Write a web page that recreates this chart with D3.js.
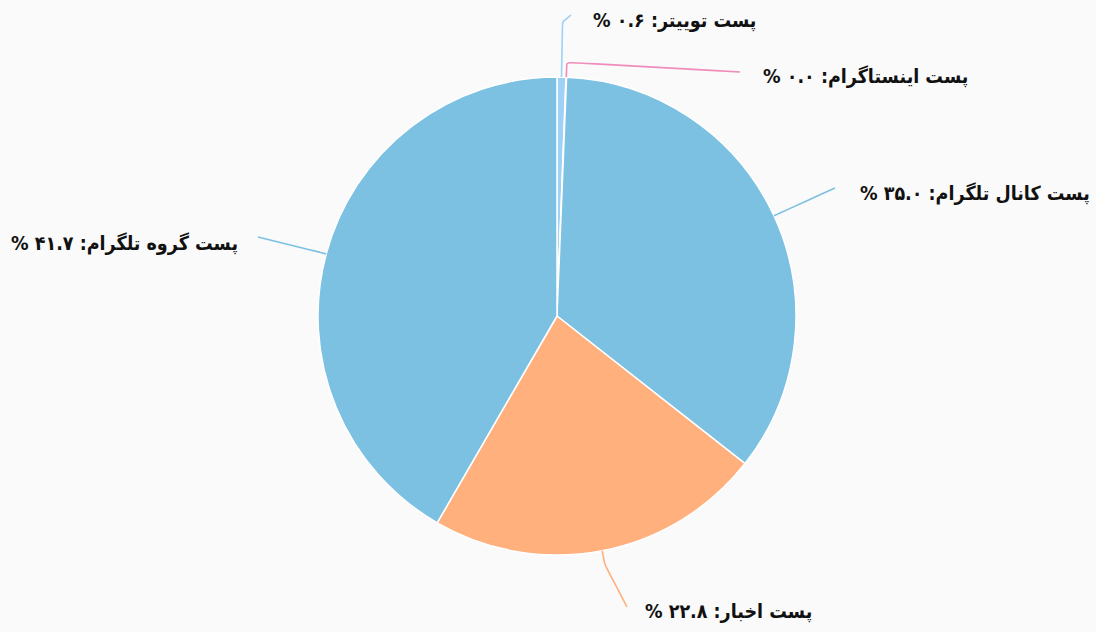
<!DOCTYPE html>
<html>
<head>
<meta charset="utf-8">
<script src="https://cdn.jsdelivr.net/npm/d3@7"></script>
<style>
  html, body { margin: 0; padding: 0; background: #fafafa; }
  svg { display: block; }
  text { font-family: "DejaVu Sans Condensed", "DejaVu Sans", sans-serif; font-weight: bold; fill: #111; }
</style>
</head>
<body>
<svg id="chart" width="1096" height="632"></svg>
<script>
// ---- data ----
const categories = ["پست توییتر", "پست اینستاگرام", "پست کانال تلگرام", "پست اخبار", "پست گروه تلگرام"];
const values = [0.6, 0.04, 35.0, 22.8, 41.7];
const colors = ["#9fd0f5", "#f08cbb", "#7cc1e2", "#ffb07d", "#7cc1e2"];

// ---- layout (label placement, not data) ----
const W = 1096, H = 632;
const cx = 557, cy = 316, R = 239;
const labelLayout = [
  { ex: 571, ey: 15, tx: 593, ty: 20, anchor: "start", elbow: 55 },
  { ex: 740, ey: 72, tx: 763, ty: 76, anchor: "start", elbow: 15 },
  { ex: 835, ey: 188, tx: 860, ty: 193, anchor: "start", elbow: 8 },
  { ex: 627, ey: 607, tx: 645, ty: 611, anchor: "start", elbow: 14 },
  { ex: 258, ey: 237, tx: 238, ty: 243, anchor: "end", elbow: 8 }
];

const toFa = s => s.replace(/[0-9]/g, d => "۰۱۲۳۴۵۶۷۸۹"[+d]);
const fmt = d3.format(".1f");

const data = categories.map((c, i) => ({ name: c, value: values[i], color: colors[i], layout: labelLayout[i] }));

const svg = d3.select("#chart");
svg.append("rect").attr("width", W).attr("height", H).attr("fill", "#fafafa");

const pie = d3.pie().value(d => d.value).sort(null).startAngle(0).endAngle(2 * Math.PI);
const arcs = pie(data);
const arc = d3.arc().innerRadius(0).outerRadius(R);

const g = svg.append("g").attr("transform", `translate(${cx},${cy})`);

g.selectAll("path.slice")
  .data(arcs)
  .join("path")
  .attr("class", "slice")
  .attr("d", arc)
  .attr("fill", d => d.data.color)
  .attr("stroke", "#ffffff")
  .attr("stroke-width", 1.5)
  .attr("stroke-linejoin", "round");

// connectors
const line = d3.line().curve(d3.curveBasis);
svg.selectAll("path.conn")
  .data(arcs)
  .join("path")
  .attr("class", "conn")
  .attr("fill", "none")
  .attr("stroke", d => d.data.color)
  .attr("stroke-width", 1.6)
  .attr("d", d => {
    const a = (d.startAngle + d.endAngle) / 2;
    const L = d.data.layout;
    const p0 = [cx + R * Math.sin(a), cy - R * Math.cos(a)];
    const p1 = [cx + (R + L.elbow) * Math.sin(a), cy - (R + L.elbow) * Math.cos(a)];
    const p2 = [L.ex, L.ey];
    return line([p0, p1, p1, p2]);
  });

// labels
svg.selectAll("text.lbl")
  .data(arcs)
  .join("text")
  .attr("class", "lbl")
  .attr("x", d => d.data.layout.tx)
  .attr("y", d => d.data.layout.ty)
  .attr("dy", "0.35em")
  .attr("text-anchor", d => d.data.layout.anchor)
  .style("font-size", "19.5px")
  .text(d => "\u202B" + d.data.name + ": " + toFa(fmt(d.data.value)) + " %" + "\u202C");
</script>
</body>
</html>
